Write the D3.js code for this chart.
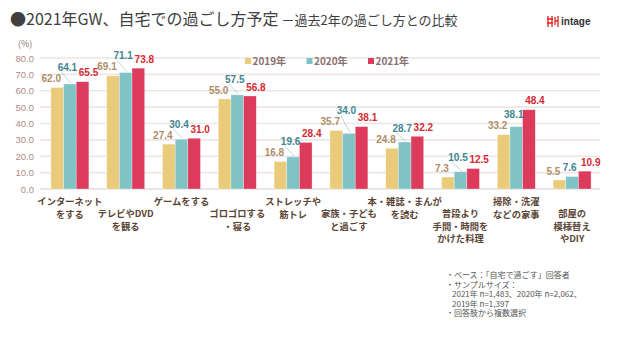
<!DOCTYPE html>
<html><head><meta charset="utf-8">
<script src="https://cdn.jsdelivr.net/npm/d3@7"></script>
<style>
html,body{margin:0;padding:0;background:#fff;}
svg{display:block;}
</style></head>
<body>
<svg id="c" width="640" height="341"></svg>
<script>
const categories = ["インターネット\nをする","テレビやDVD\nを観る","ゲームをする","ゴロゴロする\n・寝る","ストレッチや\n筋トレ","家族・子ども\nと過ごす","本・雑誌・まんが\nを読む","普段より\n手間・時間を\nかけた料理","掃除・洗濯\nなどの家事","部屋の\n模様替え\nやDIY"];
const seriesNames = ["2019年","2020年","2021年"];
const v2019 = [62.0,69.1,27.4,55.0,16.8,35.7,24.8,7.3,33.2,5.5];
const v2020 = [64.1,71.1,30.4,57.5,19.6,34.0,28.7,10.5,38.1,7.6];
const v2021 = [65.5,73.8,31.0,56.8,28.4,38.1,32.2,12.5,48.4,10.9];
const yTicks = [0,10,20,30,40,50,60,70,80];
const notes = ["・ベース：「自宅で過ごす」回答者","・サンプルサイズ：","2021年 n=1,483、2020年 n=2,062、","2019年 n=1,397","・回答肢から複数選択"];
const noteIndent = [0,0,1,1,0];

const series = [v2019, v2020, v2021];
const barColors = ["#E9CB7B","#7FC3C7","#DC3B5C"];
const labelColors = ["#AE8E68","#3E8690","#D52932"];
const JP = "'Noto Sans CJK JP','Noto Sans',sans-serif";
const NUM = "'Liberation Sans','Noto Sans CJK JP',sans-serif";

const svg = d3.select("#c");

// Title
const title = svg.append("text").attr("x",10).attr("y",25)
  .attr("font-family",JP).attr("fill","#404040");
title.append("tspan").attr("font-size",16).text("●2021年GW、自宅での過ごし方予定");
title.append("tspan").attr("font-size",13).attr("dx",3).text("－過去2年の過ごし方との比較");

// Logo
const logo = svg.append("g").attr("transform","translate(548,21)");
logo.append("path").attr("d","M0,-5 L0,6 M4,-5 L4,6 M-1,-2 L5,-2 M-1,2 L5,2 M7,-4 L7,4 M7,0 L10,0 M10,-5 L10,6")
  .attr("stroke","#E02020").attr("stroke-width",1.3).attr("fill","none");
logo.append("text").attr("x",13).attr("y",4).attr("font-family",NUM).attr("font-weight","bold")
  .attr("font-size",10).attr("fill","#333").text("intage");

// Scales
const x0 = d3.scaleBand().domain(d3.range(categories.length)).range([42,600]).paddingInner(0.32).paddingOuter(0.16);
const x1 = d3.scaleBand().domain(d3.range(3)).range([0,x0.bandwidth()]);
const y = d3.scaleLinear().domain([0,80]).range([189,58]);

// Grid
svg.append("g").selectAll("line").data(yTicks).join("line")
  .attr("x1",40).attr("x2",600).attr("y1",d=>y(d)).attr("y2",d=>y(d))
  .attr("stroke",d=>d===0?"#E6DCDC":"#EEE5E5").attr("stroke-width",1.6);

// Y axis
const yAxis = d3.axisLeft(y).tickValues(yTicks).tickFormat(d3.format(".1f")).tickSize(0).tickPadding(0);
const ya = svg.append("g").attr("transform","translate(34,0)").call(yAxis);
ya.select(".domain").remove();
ya.selectAll("text").attr("font-family",NUM).attr("font-size",9.5).attr("fill","#B08A84");
svg.append("text").attr("x",18).attr("y",47).attr("font-family",JP).attr("font-size",9).attr("fill","#8A7272").text("(%)");

// Legend
const legend = svg.append("g");
seriesNames.forEach((n,i)=>{
  const lx = 245 + i*61.5;
  legend.append("rect").attr("x",lx).attr("y",58).attr("width",6).attr("height",6).attr("fill",barColors[i]);
  legend.append("text").attr("x",lx+7.5).attr("y",65).attr("font-family",JP).attr("font-weight","bold")
    .attr("font-size",10).attr("fill","#8C7171").text(n);
});

// Bars
const groups = svg.append("g").selectAll("g").data(categories).join("g")
  .attr("transform",(d,i)=>`translate(${x0(i)},0)`);
groups.selectAll("rect").data((d,i)=>series.map((s,k)=>({k,v:s[i]}))).join("rect")
  .attr("x",d=>x1(d.k)).attr("width",x1.bandwidth())
  .attr("y",d=>y(d.v)).attr("height",d=>y(0)-y(d.v))
  .attr("fill",d=>barColors[d.k]).attr("stroke","#fff").attr("stroke-opacity",0.5).attr("stroke-width",0.6);

// Value labels with simple collision avoidance
const dxs = [-6,-2.5,6];
const lblLayer = svg.append("g");
categories.forEach((c,i)=>{
  const placed = [];
  series.forEach((s,k)=>{
    const bx = x0(i)+x1(k)+x1.bandwidth()/2;
    const top = y(s[i]);
    const t = lblLayer.append("text").attr("font-family",NUM).attr("font-weight","bold")
      .attr("font-size",10).attr("fill",labelColors[k]).attr("text-anchor","middle").text(s[i].toFixed(1));
    const w = t.node().getComputedTextLength();
    const cx = bx + dxs[k];
    let cy = top - 9;
    const h = 10;
    let moved = true;
    while(moved){
      moved = false;
      for(const p of placed){
        const ox = Math.abs(cx - p.cx) < (w + p.w)/2 + 0.5;
        const oy = Math.abs(cy - p.cy) < h;
        if(ox && oy){ cy = p.cy - h - 1; moved = true; }
      }
    }
    placed.push({cx,cy,w});
    t.attr("x",cx).attr("y",cy+3.6);
    if(top - 9 - cy > 3){
      lblLayer.append("line").attr("x1",bx+1).attr("y1",top-1).attr("x2",cx-w/2+4).attr("y2",cy+5)
        .attr("stroke",labelColors[k]).attr("stroke-opacity",0.5).attr("stroke-width",0.7);
    }
  });
});

// Category labels
const catLayer = svg.append("g");
categories.forEach((c,i)=>{
  const cx = x0(i)+x0.bandwidth()/2;
  const y0 = (i%2===0) ? 205 : 217;
  const t = catLayer.append("text").attr("font-family",JP).attr("font-weight","bold")
    .attr("font-size",9.3).attr("fill","#5A4535").attr("text-anchor","middle");
  c.split("\n").forEach((ln,j)=>{
    t.append("tspan").attr("x",cx).attr("y",y0 + j*12.5).text(ln);
  });
});

// Notes
const nt = svg.append("g").attr("font-family",JP).attr("font-size",8).attr("fill","#555");
notes.forEach((n,j)=>{
  nt.append("text").attr("x",446 + noteIndent[j]*6).attr("y",278 + j*9.6).text(n);
});
</script>
</body></html>
